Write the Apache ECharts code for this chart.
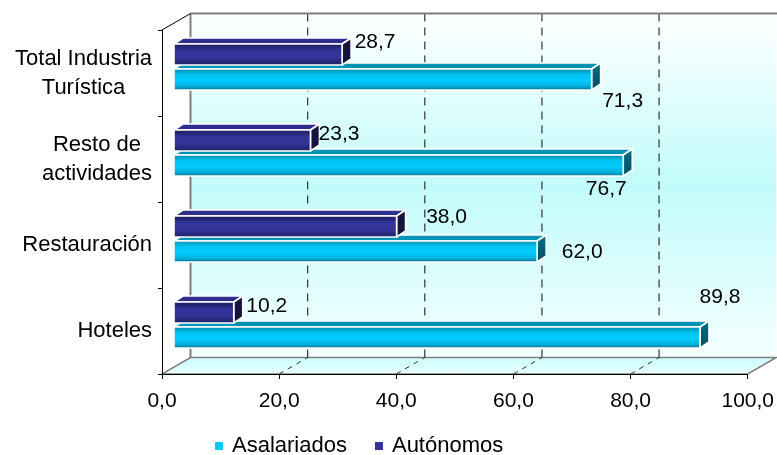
<!DOCTYPE html>
<html>
<head>
<meta charset="utf-8">
<script src="https://cdn.jsdelivr.net/npm/echarts@6/dist/echarts.min.js"></script>
<style>
html,body{margin:0;padding:0;background:#ffffff;}
#chart{width:777px;height:455px;}
</style>
</head>
<body>
<div id="chart"></div>
<script>
// ---- data ----
const categories = ['Hoteles', 'Restauración', 'Resto de\nactividades', 'Total Industria\nTurística'];
const asalariados = [89.8, 62.0, 76.7, 71.3];
const autonomos = [10.2, 38.0, 23.3, 28.7];
const xTickValues = [0, 20, 40, 60, 80, 100];
const seriesNames = ['Asalariados', 'Autónomos'];

// ---- layout (label centre offsets in px from the value point at the category centre) ----
const asalLabelOffset = [[32, -34], [57, 7], [-5, 30], [43, 28.5]];
const autLabelOffset = [[45, -24.5], [62, -28], [40.5, -25], [45, -30.5]];

const FONT = '"Liberation Sans", Arial, sans-serif';
const fmt = v => Number(v).toFixed(1).replace('.', ',');

const PALETTE = {
  asal: {
    front: {type: 'linear', x: 0, y: 0, x2: 0, y2: 1, colorStops: [
      {offset: 0, color: '#07869f'}, {offset: 0.28, color: '#00c2f0'},
      {offset: 0.55, color: '#00ccff'}, {offset: 0.8, color: '#00b0da'},
      {offset: 1, color: '#006882'}]},
    top: '#0094b4',
    side: {type: 'linear', x: 0, y: 0, x2: 0, y2: 1, colorStops: [
      {offset: 0, color: '#006f88'}, {offset: 1, color: '#004c60'}]},
    labelOffset: asalLabelOffset,
    shift: 12.5
  },
  aut: {
    front: {type: 'linear', x: 0, y: 0, x2: 0, y2: 1, colorStops: [
      {offset: 0, color: '#1a1a56'}, {offset: 0.35, color: '#333399'},
      {offset: 0.65, color: '#33339a'}, {offset: 1, color: '#1c1c5c'}]},
    top: '#2e2e8c',
    side: '#14143e',
    labelOffset: autLabelOffset,
    shift: -12.5
  }
};

function barRenderer(kind) {
  const pal = PALETTE[kind];
  return function (params, api) {
    const v = api.value(0);
    const i = api.value(1);
    const p0 = api.coord([0, i]);
    const p1 = api.coord([v, i]);
    const band = api.size([0, 1])[1];
    const k = band / 86;
    const fx = 12 * k, fy = -6 * k;   // front face depth shift
    const dx = 9 * k, dy = -6 * k;    // bar depth
    const hh = 10.5 * k;
    const cy = p0[1] + fy + pal.shift * k;
    const x0 = p0[0] + fx, x1 = p1[0] + fx;
    const yt = cy - hh, yb = cy + hh;
    const st = {stroke: '#ffffff', lineWidth: 1.6, lineJoin: 'round'};
    const lo = pal.labelOffset[i];
    return {
      type: 'group',
      children: [
        {type: 'polygon', shape: {points: [[x0, yt], [x1, yt], [x1 + dx, yt + dy], [x0 + dx, yt + dy]]},
         style: Object.assign({fill: pal.top}, st)},
        {type: 'polygon', shape: {points: [[x1, yt], [x1 + dx, yt + dy], [x1 + dx, yb + dy], [x1, yb]]},
         style: Object.assign({fill: pal.side}, st)},
        {type: 'rect', shape: {x: x0, y: yt, width: x1 - x0, height: yb - yt},
         style: Object.assign({fill: pal.front}, st)},
        {type: 'text', z2: 50, style: {text: fmt(v), x: p1[0] + lo[0] * k, y: p0[1] + lo[1] * k,
         align: 'center', verticalAlign: 'middle', font: '21px ' + FONT, fill: '#000000'}}
      ]
    };
  };
}

function frameRenderer(params, api) {
  const cs = params.coordSys;
  const x = cs.x, y = cs.y, w = cs.width, h = cs.height;
  const band = api.size([0, 1])[1];
  const k = band / 86;
  const Dx = 28.5 * k, Dy = -16.5 * k;
  const children = [];
  children.push({type: 'rect', shape: {x: x + Dx, y: y + Dy, width: w, height: h},
    style: {fill: {type: 'linear', x: 0, y: 0, x2: 0, y2: 1, colorStops: [
      {offset: 0, color: '#ffffff'}, {offset: 0.5, color: '#c2fbfb'}, {offset: 1, color: '#f5ffff'}]}}});
  children.push({type: 'polygon', shape: {points: [[x, y + h], [x + w, y + h], [x + w + Dx, y + h + Dy], [x + Dx, y + h + Dy]]},
    style: {fill: {type: 'linear', x: 0, y: 0, x2: 0, y2: 1, colorStops: [
      {offset: 0, color: '#cbfcfc'}, {offset: 1, color: '#e8ffff'}]}, stroke: '#808080', lineWidth: 1.5}});
  xTickValues.forEach(t => {
    if (t === xTickValues[0] || t === xTickValues[xTickValues.length - 1]) return;
    const px = api.coord([t, 0])[0];
    children.push({type: 'line', shape: {x1: px + Dx, y1: y + Dy, x2: px + Dx, y2: y + h + Dy},
      style: {stroke: '#333333', lineWidth: 1.2, lineDash: [8, 6]}});
    children.push({type: 'line', shape: {x1: px, y1: y + h, x2: px + Dx, y2: y + h + Dy},
      style: {stroke: '#333333', lineWidth: 1, lineDash: [5, 5]}});
  });
  children.push({type: 'line', shape: {x1: x + Dx, y1: y + Dy, x2: x + w + Dx + 2, y2: y + Dy},
    style: {stroke: '#808080', lineWidth: 2}});
  children.push({type: 'line', shape: {x1: x + Dx, y1: y + Dy, x2: x + Dx, y2: y + h + Dy},
    style: {stroke: '#808080', lineWidth: 2}});
  children.push({type: 'line', shape: {x1: x, y1: y, x2: x + Dx, y2: y + Dy},
    style: {stroke: '#000000', lineWidth: 1}});
  return {type: 'group', children: children};
}

const chart = echarts.init(document.getElementById('chart'), null, {renderer: 'canvas'});
chart.setOption({
  animation: false,
  backgroundColor: '#ffffff',
  grid: {left: 162, right: 29, top: 30, bottom: 81},
  legend: {
    data: seriesNames,
    left: 215, top: 435,
    padding: 0,
    icon: 'rect', itemWidth: 8, itemHeight: 8, itemGap: 28,
    textStyle: {fontSize: 22, fontFamily: FONT, color: '#000000', padding: [0, 0, 0, 4]}
  },
  xAxis: {
    type: 'value', min: 0, max: 100, interval: 20, z: 10,
    axisLine: {show: true, lineStyle: {color: '#000000', width: 1}},
    axisTick: {show: true, length: 5, lineStyle: {color: '#000000'}},
    splitLine: {show: false},
    axisLabel: {formatter: v => fmt(v), fontSize: 21, fontFamily: FONT, color: '#000000', margin: 17}
  },
  yAxis: {
    type: 'category', data: categories, z: 10,
    axisLine: {show: true, lineStyle: {color: '#000000', width: 1}},
    axisTick: {show: true, length: 4, lineStyle: {color: '#000000'}},
    splitLine: {show: false},
    axisLabel: {
      interval: 0, margin: 10,
      formatter: v => v.split('\n').map(s => '{c|' + s + '}').join('\n'),
      rich: {c: {align: 'center', fontSize: 22, fontFamily: FONT, color: '#000000', lineHeight: 29}}
    }
  },
  series: [
    {type: 'custom', name: 'frame', silent: true, z: 1, renderItem: frameRenderer,
     encode: {x: 0, y: 1}, data: [[0, 0]]},
    {type: 'custom', name: seriesNames[0], z: 3, renderItem: barRenderer('asal'),
     itemStyle: {color: '#00ccff'}, encode: {x: 0, y: 1},
     data: asalariados.map((v, i) => [v, i])},
    {type: 'custom', name: seriesNames[1], z: 4, renderItem: barRenderer('aut'),
     itemStyle: {color: '#333399'}, encode: {x: 0, y: 1},
     data: autonomos.map((v, i) => [v, i])}
  ]
});
</script>
</body>
</html>
